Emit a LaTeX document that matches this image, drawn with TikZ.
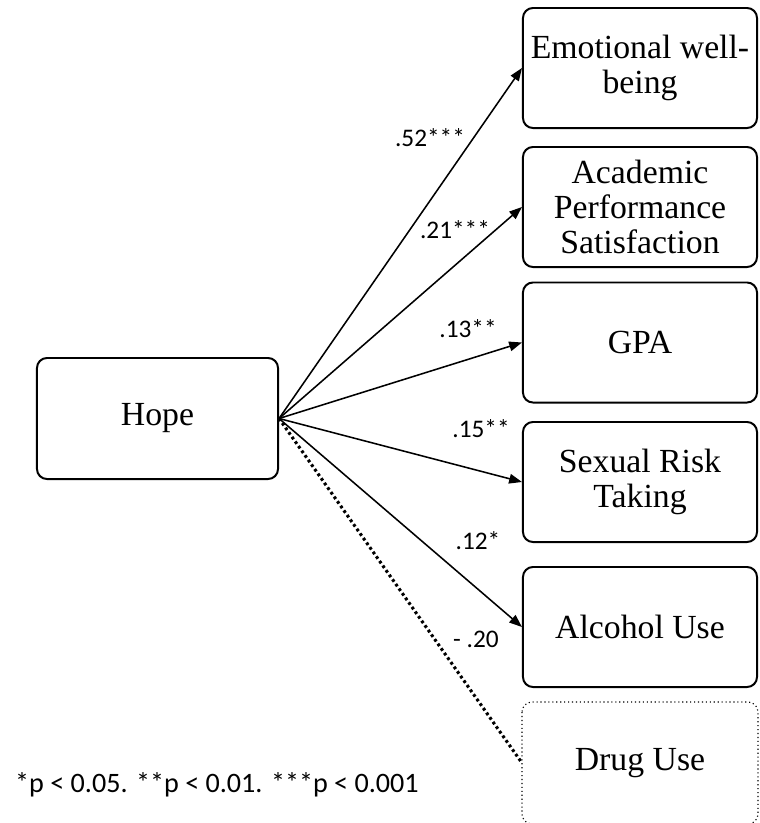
\documentclass[tikz,border=0pt]{standalone}
\usepackage{fontspec}
\setmainfont{Liberation Serif}
\newfontfamily\coeffont{Carlito}
\usetikzlibrary{positioning, arrows.meta}
\definecolor{ink}{HTML}{000000}

\begin{document}
\begin{tikzpicture}[x=0.025cm, y=-0.025cm,
    outcome/.style={draw=ink, line width=1.4pt, rounded corners=0.25cm,
      minimum width=5.85cm, minimum height=3cm, inner sep=2pt, align=center,
      font=\fontsize{24}{25}\selectfont},
    effect/.style={ink, line width=1.1pt, -{Triangle[length=3.2mm, width=2.4mm]}},
    coef/.style={inner sep=0pt, font=\coeffont\fontsize{18}{20}\selectfont}]
  \useasboundingbox (0,0) rectangle (759,823);

  % Predictor
  \node[outcome, minimum width=6.025cm, minimum height=3.025cm] (hope) at (157.5,418.5) {Hope};

  % Outcomes
  \node[outcome] (emo) at (640,68) {Emotional well-\\being};
  \node[outcome] (acad) at (640,207) {Academic\\Performance\\Satisfaction};
  \node[outcome] (gpa) at (640,342.5) {GPA};
  \node[outcome] (sex) at (640,482) {Sexual Risk\\Taking};
  \node[outcome] (alc) at (640,627) {Alcohol Use};
  \node[outcome, draw=none] (drug) at (640,763) {Drug Use};
  \draw[ink, line width=0.8pt, dotted, rounded corners=0.25cm]
    (drug.north west) rectangle (drug.south east);

  % Paths
  \foreach \t in {emo, acad, gpa, sex, alc}
    \draw[effect] (hope.east) -- (\t.west);
  \draw[ink, line width=2.2pt, dash pattern=on 2pt off 2pt] (hope.east) -- (drug.west);

  % Coefficients
  \node[coef] (c52) at (430,138) {.52***};
  \node[coef] (c21) at (455,230) {.21***};
  \node[coef] (c13) at (468,329) {.13**};
  \node[coef] (c15) at (481,429) {.15**};
  \node[coef] (c12) at (478,541) {.12*};
  \node[coef] (c20) at (476,639) {- .20};

  % Note
  \node[coef, font=\coeffont\fontsize{20}{22}\selectfont] (note) at (217,785)
    {*p < 0.05. **p < 0.01. ***p < 0.001};
\end{tikzpicture}
\end{document}
